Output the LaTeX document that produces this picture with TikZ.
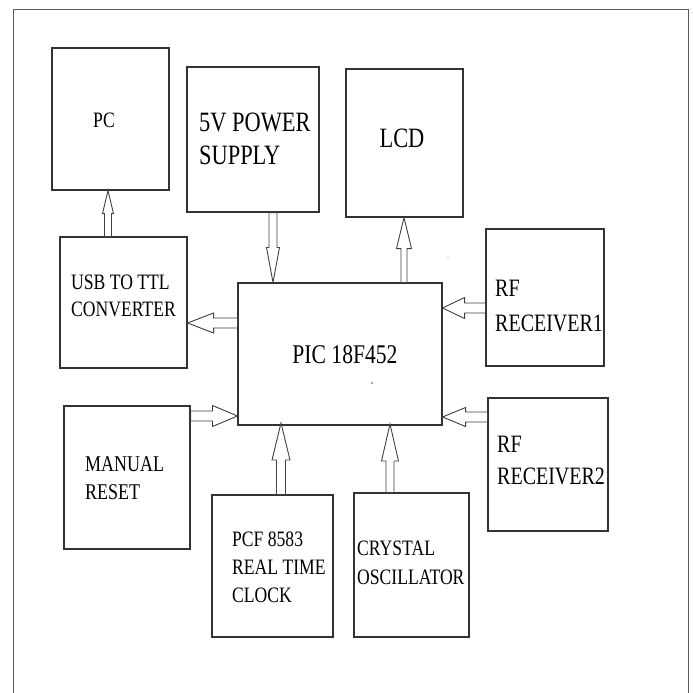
\documentclass[tikz,border=0pt]{standalone}
\usepackage{fontspec}
\setmainfont[FakeStretch=0.8]{Liberation Serif}
\usetikzlibrary{calc}
\tikzset{
  box/.style={draw=black!80, line width=1.1pt, inner sep=0pt},
  txt/.style={inner sep=0pt, align=left, anchor=west, text=black},
  arr/.style={draw=black!75, line width=0.9pt, fill=white, line join=miter},
}
\newcommand\boxat[5]{% name x1 y1 x2 y2
  \node[box, minimum width={(#4-#2)*1pt}, minimum height={(#5-#3)*1pt}] (#1) at ({(#2+#4)/2},{(#3+#5)/2}) {};}
\newcommand\barrow[5]{% start end shaft-hw head-hw head-len
  \path let \p1=(#1), \p2=(#2) in \pgfextra{%
    \pgfmathsetmacro\bang{atan2(\y2-\y1,\x2-\x1)}%
    \pgfmathsetmacro\blen{veclen(\x2-\x1,\y2-\y1)}%
    \xdef\bx{\x1}\xdef\by{\y1}\xdef\bA{\bang}\xdef\bL{\blen}};
  \draw[arr, shift={(\bx,\by)}, rotate=\bA] (0pt,-#3pt) -- (\bL pt-#5pt,-#3pt) -- (\bL pt-#5pt,-#4pt) -- (\bL pt,0pt) -- (\bL pt-#5pt,#4pt) -- (\bL pt-#5pt,#3pt) -- (0pt,#3pt) -- cycle;}
\begin{document}
\begin{tikzpicture}[x=1pt, y=-1pt]
\useasboundingbox (0,0) rectangle (694,693);
% outer frame (open at the bottom)
\draw[draw=black!65, line width=1pt] (13,693) -- (13,10) -- (688,10) -- (688,693);
% boxes
\boxat{pc}{52}{48}{169}{190}
\boxat{pwr}{187}{67}{319}{212}
\boxat{lcd}{346}{69}{463}{217}
\boxat{usb}{60}{237}{187}{368}
\boxat{pic}{238}{283}{442}{425}
\boxat{rfa}{486}{229}{604}{366}
\boxat{rst}{64}{406}{190}{549}
\boxat{rfb}{488}{398}{608}{531}
\boxat{rtc}{212}{495}{333}{637}
\boxat{osc}{354}{493}{469}{637}
% texts
\node[inner sep=0pt, font=\fontsize{22}{26}\selectfont] (tpc) at (104,120) {PC};
\node[txt, font=\fontsize{28}{33}\selectfont] (tpwr) at (199,139) {5V POWER\\SUPPLY};
\node[inner sep=0pt, font=\fontsize{28}{33}\selectfont] (tlcd) at (402,138) {LCD};
\node[txt, font=\fontsize{22}{27}\selectfont] (tusb) at (71,296) {USB TO TTL\\CONVERTER};
\node[inner sep=0pt, font=\fontsize{27}{30}\selectfont] (tpic) at (345,355) {PIC 18F452};
\node[txt, font=\fontsize{25}{35}\selectfont] (trfa) at (495,306) {RF\\RECEIVER1};
\node[txt, font=\fontsize{22.5}{28}\selectfont] (trst) at (85,478) {MANUAL\\RESET};
\node[txt, font=\fontsize{25}{32}\selectfont] (trfb) at (497,461) {RF\\RECEIVER2};
\node[txt, font=\fontsize{22}{28}\selectfont] (trtc) at (232,567) {PCF 8583\\REAL TIME\\CLOCK};
\node[txt, font=\fontsize{22}{29}\selectfont] (tosc) at (357,563) {CRYSTAL\\OSCILLATOR};
% stray dots
\fill[black!70] (372,383) circle (0.8);
\fill[black!50] (448,258) circle (0.7);
% connector end points
\coordinate (a1s) at (108,0 |- usb.north); \coordinate (a1e) at (108,0 |- pc.south);
\coordinate (a2s) at (273,0 |- pwr.south); \coordinate (a2e) at (273,0 |- pic.north);
\coordinate (a3s) at (pic.west |- 0,323); \coordinate (a3e) at (usb.east |- 0,323);
\coordinate (a4s) at (404,0 |- pic.north); \coordinate (a4e) at (404,0 |- lcd.south);
\coordinate (a5s) at (rfa.west |- 0,308); \coordinate (a5e) at (pic.east |- 0,308);
\coordinate (a6s) at (rst.east |- 0,416); \coordinate (a6e) at (pic.west |- 0,416);
\coordinate (a7s) at (281,0 |- rtc.north); \coordinate (a7e) at (281,423);
\coordinate (a8s) at (390,0 |- osc.north); \coordinate (a8e) at (390,424);
\coordinate (a9s) at (rfb.west |- 0,417); \coordinate (a9e) at (pic.east |- 0,417);
% block arrows
\barrow{a1s}{a1e}{3.5}{5.5}{23}
\barrow{a2s}{a2e}{4}{6.5}{35}
\barrow{a3s}{a3e}{5}{10}{26}
\barrow{a4s}{a4e}{3}{7.5}{31}
\barrow{a5s}{a5e}{5}{10.5}{22}
\barrow{a6s}{a6e}{5}{10.5}{25}
\barrow{a7s}{a7e}{4.5}{9}{37}
\barrow{a8s}{a8e}{4}{8.5}{37}
\barrow{a9s}{a9e}{5}{9.5}{23}
\end{tikzpicture}
\end{document}
